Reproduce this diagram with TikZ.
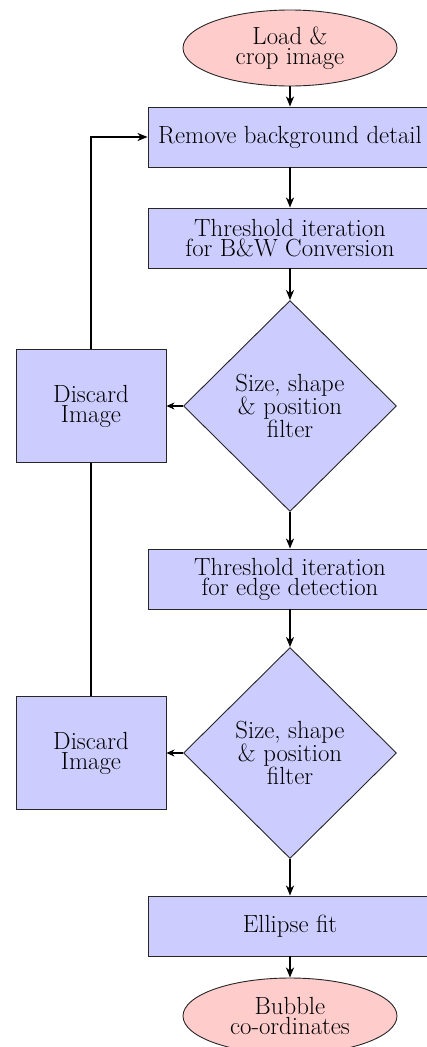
\documentclass[tikz,border=0pt]{standalone}
\usetikzlibrary{shapes.geometric,arrows.meta}
\begin{document}
\begin{tikzpicture}[x=1pt,y=-1pt,
  every node/.style={font=\fontsize{24.8pt}{20pt}\selectfont, align=center, inner sep=0pt, draw=black!85, line width=0.9pt},
  procbox/.style={rectangle, fill=blue!20, minimum width=284pt, minimum height=60pt},
  termin/.style={ellipse, fill=red!20, minimum width=214pt, minimum height=76pt},
  decision/.style={diamond, fill=blue!20, minimum width=213pt, minimum height=211pt},
  discard/.style={rectangle, fill=blue!20, minimum width=150pt, minimum height=113pt},
  flow/.style={line width=1.7pt, -{Stealth[length=10pt,width=8pt,inset=3pt]}},
  side/.style={line width=1.1pt, -{Stealth[length=8pt,width=7pt,inset=2.5pt]}},
  loopline/.style={line width=1.7pt}
]
\useasboundingbox (0,0) rectangle (426,1047);
\node[termin] (load) at (290,48) {Load \&\\crop image};
\node[procbox] (remove) at (290,137) {Remove background detail};
\node[procbox] (bw) at (290,238) {Threshold iteration\\for B\&W Conversion};
\node[decision] (f1) at (290,406) {Size, shape\\\& position\\filter};
\node[discard] (d1) at (91,406) {Discard\\Image};
\node[procbox] (edge) at (290,579) {Threshold iteration\\for edge detection};
\node[decision] (f2) at (290,753) {Size, shape\\\& position\\filter};
\node[discard] (d2) at (91,753) {Discard\\Image};
\node[procbox] (fit) at (290,926) {Ellipse fit};
\node[termin] (bub) at (290,1016) {Bubble\\co-ordinates};
\draw[flow] (load.south) -- (remove.north);
\draw[flow] (remove.south) -- (bw.north);
\draw[flow] (bw.south) -- (f1.north);
\draw[flow] (f1.south) -- (edge.north);
\draw[flow] (edge.south) -- (f2.north);
\draw[flow] (f2.south) -- (fit.north);
\draw[flow] (fit.south) -- (bub.north);
\draw[side] (f1.west) -- (d1.east);
\draw[side] (f2.west) -- (d2.east);
\draw[flow] (d1.north) |- (remove.west);
\draw[loopline] (d2.north) -- (d1.south);
\end{tikzpicture}
\end{document}
